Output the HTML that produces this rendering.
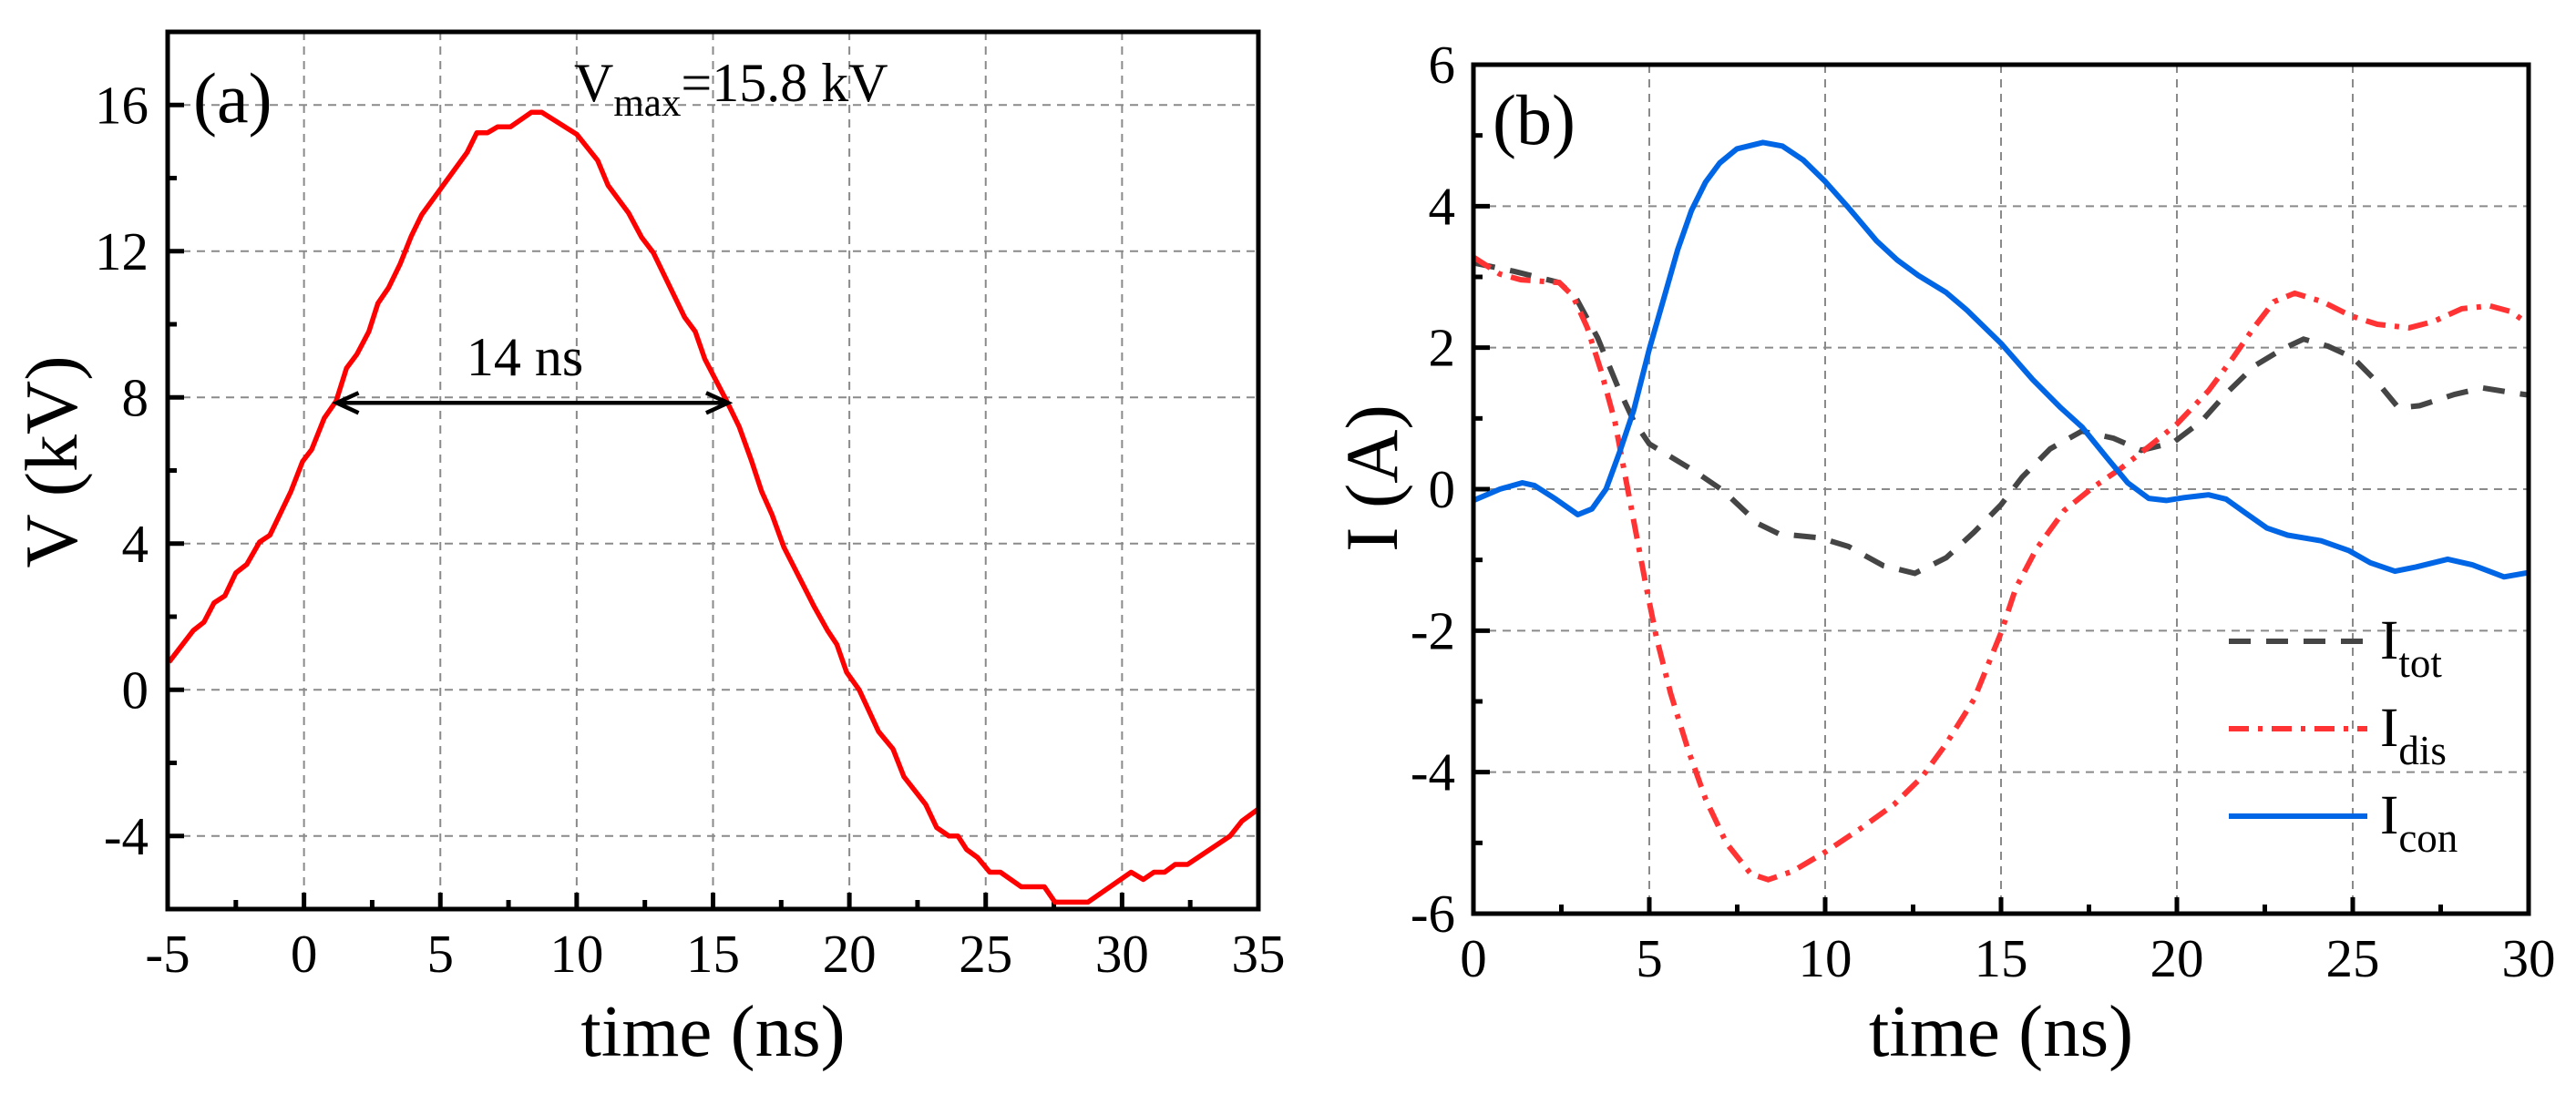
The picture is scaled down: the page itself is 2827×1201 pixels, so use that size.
<!DOCTYPE html>
<html><head><meta charset="utf-8"><style>
html,body{margin:0;padding:0;background:#fff;}
svg{display:block;font-family:"Liberation Serif","Times New Roman",serif;}
</style></head><body>
<svg id="fig" width="2827" height="1201" viewBox="0 0 2827 1201" xmlns="http://www.w3.org/2000/svg"></svg>
<script>
// ---- Panel (a) data ----
const vTime = [-4.95,-4.06,-3.67,-3.3,-2.9,-2.5,-2.1,-1.63,-1.25,-0.48,-0.05,0.28,0.74,1.18,1.56,1.94,2.38,2.71,3.1,3.53,3.94,4.32,5.98,6.34,6.73,7.1,7.57,8.34,8.72,10.0,10.77,11.15,11.9,12.38,12.81,13.96,14.35,14.7,15.5,15.96,16.4,16.78,17.16,17.6,18.05,18.7,19.2,19.54,19.9,20.36,21.07,21.6,22.0,22.8,23.2,23.65,23.98,24.3,24.7,25.15,25.54,26.3,27.15,27.54,28.75,30.33,30.78,31.17,31.56,31.95,32.4,33.96,34.4,35.0];
const vVolt = [0.76,1.62,1.85,2.38,2.57,3.2,3.43,4.04,4.23,5.43,6.25,6.57,7.43,7.9,8.8,9.18,9.8,10.57,11.0,11.66,12.42,13.0,14.7,15.24,15.24,15.4,15.4,15.8,15.8,15.2,14.48,13.8,13.05,12.38,11.96,10.19,9.8,9.05,7.9,7.2,6.29,5.43,4.8,3.9,3.24,2.29,1.62,1.24,0.48,0.0,-1.14,-1.62,-2.38,-3.14,-3.77,-4.0,-4.0,-4.37,-4.59,-4.99,-4.99,-5.39,-5.39,-5.81,-5.81,-4.99,-5.19,-4.99,-4.99,-4.78,-4.78,-4.0,-3.59,-3.26];
const aXTicks = [-5,0,5,10,15,20,25,30,35];
const aYTicks = [-4,0,4,8,12,16];
const fwhmStart = 1.2, fwhmEnd = 15.55, fwhmLevel = 7.85;

// ---- Panel (b) data ----
const conT = [0,0.75,1.39,1.74,2.34,2.97,3.37,3.77,4.16,4.56,5.0,5.41,5.81,6.2,6.6,7.0,7.49,8.23,8.78,9.38,10,10.66,11.46,12.05,12.65,13.44,14.03,15,15.9,16.7,17.3,18.0,18.6,19.2,19.7,20.2,20.9,21.4,21.96,22.56,23.15,24.1,24.9,25.5,26.2,26.8,27.7,28.4,29.3,30];
const conI = [-0.16,0,0.09,0.05,-0.14,-0.36,-0.28,0,0.53,1.12,1.98,2.69,3.39,3.94,4.34,4.61,4.81,4.9,4.85,4.65,4.35,3.98,3.51,3.24,3.02,2.78,2.53,2.06,1.55,1.15,0.88,0.45,0.09,-0.13,-0.16,-0.12,-0.08,-0.14,-0.34,-0.55,-0.65,-0.73,-0.87,-1.04,-1.16,-1.1,-0.99,-1.07,-1.24,-1.18];
const totT = [0,1.15,2.44,2.93,3.53,4.12,4.56,5.0,6.3,7.1,8.1,8.68,9.87,10.66,11.65,12.55,13.44,14.23,15,15.6,16.4,17.3,18.2,18.99,19.9,20.7,21.4,22.2,23.0,23.6,24.3,25.0,25.7,26.3,26.9,27.9,28.7,29.7,30];
const totI = [3.2,3.08,2.92,2.69,2.14,1.43,0.96,0.64,0.25,-0.02,-0.49,-0.63,-0.69,-0.81,-1.08,-1.19,-0.97,-0.61,-0.22,0.17,0.57,0.82,0.72,0.55,0.66,0.96,1.35,1.74,1.98,2.12,2.02,1.86,1.51,1.15,1.18,1.34,1.43,1.35,1.33];
const disT = [0,0.75,1.35,2.44,2.83,3.23,3.63,4.02,4.32,4.62,4.92,5.21,5.61,6.1,6.6,7.2,7.89,8.38,9.08,10,11.06,11.95,12.75,13.44,14.23,15,15.42,16.0,16.8,17.6,18.4,19.2,20,20.9,21.6,22.2,22.76,23.35,24.14,24.94,25.7,26.6,27.3,28.1,28.9,29.5,30];
const disI = [3.28,3.04,2.96,2.92,2.73,2.29,1.67,0.96,0.17,-0.61,-1.4,-2.11,-2.89,-3.68,-4.38,-5.01,-5.44,-5.52,-5.4,-5.13,-4.78,-4.46,-4.07,-3.6,-2.97,-2.03,-1.4,-0.85,-0.3,0.02,0.29,0.6,0.92,1.39,1.86,2.29,2.65,2.77,2.65,2.45,2.33,2.28,2.37,2.55,2.59,2.51,2.33];
const bXTicks = [0,5,10,15,20,25,30];
const bYTicks = [-6,-4,-2,0,2,4,6];
const legendNames = ["tot","dis","con"];

const NS = "http://www.w3.org/2000/svg";
const svg = document.getElementById('fig');
function mk(tag, attrs, parent){
  const e = document.createElementNS(NS, tag);
  for (const k in attrs) e.setAttribute(k, attrs[k]);
  (parent||svg).appendChild(e);
  return e;
}
function linScale(d0,d1,r0,r1){ return v => r0 + (v-d0)*(r1-r0)/(d1-d0); }
function pathFrom(xs, ys, sx, sy){
  return xs.map((t,i)=>(i?'L':'M')+sx(t).toFixed(1)+','+sy(ys[i]).toFixed(1)).join(' ');
}

function panel(opt){
  const g = mk('g', {});
  
  
  const sx = linScale(opt.xmin,opt.xmax,opt.L,opt.R);
  const sy = linScale(opt.ymin,opt.ymax,opt.B,opt.T);
  const grid = mk('g', {stroke:'#8a8a8a','stroke-width':2,'stroke-dasharray':'9,7',fill:'none'}, g);
  
  
  opt.xticks.forEach(v=>{ if(v>opt.xmin && v<opt.xmax){ const l=mk('line',{x1:sx(v),x2:sx(v),y1:opt.T,y2:opt.B},grid);   }});
  opt.yticks.forEach(v=>{ if(v>opt.ymin && v<opt.ymax){ const l=mk('line',{x1:opt.L,x2:opt.R,y1:sy(v),y2:sy(v)},grid);   }});
  opt.clip = 'clip-'+opt.name;
  const cp = mk('clipPath',{id:opt.clip},g);
  mk('rect',{x:opt.L,y:opt.T,width:opt.R-opt.L,height:opt.B-opt.T},cp);
  const tk = mk('g',{stroke:'#000','stroke-width':5},g);
  
  
  for(let i=0;i<opt.xticks.length;i++){
    const v=opt.xticks[i];
    mk('line',{x1:sx(v),x2:sx(v),y1:opt.B,y2:opt.B-18},tk);
    if(i<opt.xticks.length-1){ const m=(v+opt.xticks[i+1])/2; mk('line',{x1:sx(m),x2:sx(m),y1:opt.B,y2:opt.B-10},tk); }
  }
  const ys = opt.yminor;
  for(let v=opt.ymin; v<=opt.ymax+1e-9; v+=ys){
    const major = opt.yticks.some(t=>Math.abs(t-v)<1e-9);
    mk('line',{x1:opt.L,x2:opt.L+(major?18:10),y1:sy(v),y2:sy(v)},tk);
  }
  const xl = mk('g',{'font-size':59,'text-anchor':'middle',fill:'#000'},g);
  
  
  opt.xticks.forEach(v=>{ const t=mk('text',{x:sx(v),y:opt.xlabY},xl); t.textContent=v; });
  const yl = mk('g',{'font-size':59,'text-anchor':'end',fill:'#000'},g);
  
  
  opt.yticks.forEach(v=>{ const t=mk('text',{x:opt.ylabX,y:sy(v)+20},yl); t.textContent=v; });
  const xt = mk('text',{x:(opt.L+opt.R)/2,y:1159,'font-size':81,'text-anchor':'middle'},g);
  
  
  xt.textContent='time (ns)';
  const yt = mk('text',{x:0,y:0,'font-size':82,'text-anchor':'middle',transform:`translate(${opt.ytX},${opt.ytY}) rotate(-90)`},g);
  
  
  yt.textContent=opt.ytitle;
  return {g,sx,sy};
}

// ---------- Panel (a) ----------
const A = {name:'panel-a',L:184,R:1381,T:35,B:998,xmin:-5,xmax:35,ymin:-6,ymax:18,xticks:aXTicks,yticks:aYTicks,yminor:2,xlabY:1067,ylabX:163,ytX:84,ytY:507,ytitle:'V (kV)'};
const pa = panel(A);
const vLine = mk('path',{d:pathFrom(vTime,vVolt,pa.sx,pa.sy),fill:'none',stroke:'#ff0000','stroke-width':5.5,'stroke-linejoin':'round','clip-path':`url(#${A.clip})`},pa.g);


const arr = mk('g',{stroke:'#000','stroke-width':4.5,fill:'none'},pa.g);


const ax1=pa.sx(fwhmStart), ax2=pa.sx(fwhmEnd), ay=pa.sy(fwhmLevel);
mk('line',{x1:ax1,x2:ax2,y1:ay,y2:ay},arr);
mk('polyline',{points:`${ax1+24},${ay-11} ${ax1},${ay} ${ax1+24},${ay+11}`},arr);
mk('polyline',{points:`${ax2-24},${ay-11} ${ax2},${ay} ${ax2-24},${ay+11}`},arr);
const fw = mk('text',{x:576,y:412,'font-size':60,'text-anchor':'middle'},pa.g);


fw.textContent='14 ns';
const la = mk('text',{x:212,y:134,'font-size':78},pa.g);


la.textContent='(a)';
const vm = mk('text',{x:630,y:111,'font-size':60},pa.g);


vm.innerHTML='V<tspan font-size="43" dy="16">max</tspan><tspan dy="-16">=15.8 kV</tspan>';
const fa = mk('rect',{x:A.L,y:A.T,width:A.R-A.L,height:A.B-A.T,fill:'none',stroke:'#000','stroke-width':5},pa.g);



// ---------- Panel (b) ----------
const B = {name:'panel-b',L:1617,R:2775,T:71,B:1003,xmin:0,xmax:30,ymin:-6,ymax:6,xticks:bXTicks,yticks:bYTicks,yminor:1,xlabY:1072,ylabX:1597,ytX:1533,ytY:525,ytitle:'I (A)'};
const pb = panel(B);
const tot = mk('path',{d:pathFrom(totT,totI,pb.sx,pb.sy),fill:'none',stroke:'#454545','stroke-width':6,'stroke-dasharray':'24,17','clip-path':`url(#${B.clip})`},pb.g);


const dis = mk('path',{d:pathFrom(disT,disI,pb.sx,pb.sy),fill:'none',stroke:'#ff3333','stroke-width':6,'stroke-dasharray':'22,10,5,10','clip-path':`url(#${B.clip})`},pb.g);


const con = mk('path',{d:pathFrom(conT,conI,pb.sx,pb.sy),fill:'none',stroke:'#0066e6','stroke-width':6,'stroke-linejoin':'round','clip-path':`url(#${B.clip})`},pb.g);


const lb = mk('text',{x:1638,y:158,'font-size':78},pb.g);


lb.textContent='(b)';
const leg = mk('g',{},pb.g);


const legStyles = [{s:'#454545',d:'24,17'},{s:'#ff3333',d:'22,10,5,10'},{s:'#0066e6',d:''}];
legendNames.forEach((n,i)=>{
  const y = 704 + i*96;
  const e = mk('g',{},leg);
  
  
  const ln = mk('line',{x1:2446,x2:2598,y1:y,y2:y,stroke:legStyles[i].s,'stroke-width':6},e);
  if(legStyles[i].d) ln.setAttribute('stroke-dasharray',legStyles[i].d);
  const t = mk('text',{x:2612,y:y+19,'font-size':61},e);
  t.innerHTML = 'I<tspan font-size="45" dy="20">'+n+'</tspan>';
});
const fb = mk('rect',{x:B.L,y:B.T,width:B.R-B.L,height:B.B-B.T,fill:'none',stroke:'#000','stroke-width':5},pb.g);


</script>
</body></html>
